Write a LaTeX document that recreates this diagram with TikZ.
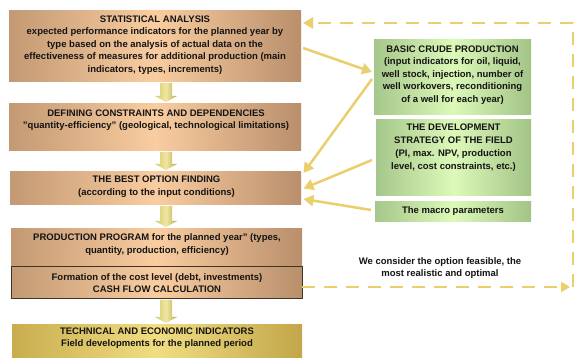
\documentclass[tikz,border=0pt]{standalone}
\usepackage{fontspec}
\setmainfont{Liberation Sans}
\usetikzlibrary{arrows.meta,calc}

\definecolor{brownL}{HTML}{C39973}
\definecolor{brownM}{HTML}{F9CDA0}
\definecolor{brownR}{HTML}{B98F6C}
\definecolor{greenL}{HTML}{A6C78B}
\definecolor{greenM}{HTML}{DCF9B8}
\definecolor{greenR}{HTML}{A3C487}
\definecolor{goldL}{HTML}{C8AD4E}
\definecolor{goldM}{HTML}{F1DD82}
\definecolor{goldR}{HTML}{C2A649}
\definecolor{flowL}{HTML}{D8CA68}
\definecolor{flowM}{HTML}{EFE6A2}
\definecolor{flowR}{HTML}{BBAA4C}
\definecolor{feedC}{HTML}{EACF6C}
\definecolor{frameC}{HTML}{3E3428}
\definecolor{inkC}{HTML}{141414}

% block arrow pointing down between two stacked boxes
\newcommand\flowdown[2]{%
  \path[shade, left color=flowL, right color=flowR, middle color=flowM]
    let \p1=(#1.south), \p2=(#2.north) in
    (160pt,\y1-1pt) -- (172pt,\y1-1pt) -- (172pt,\y2+8pt) -- (177pt,\y2+8pt)
    -- (166pt,\y2+2pt) -- (155pt,\y2+8pt) -- (160pt,\y2+8pt) -- cycle;}

\begin{document}
\begin{tikzpicture}[x=1pt,y=-1pt,
  every node/.style={inner sep=0pt, outer sep=0pt},
  txt/.style={font=\fontsize{9.5}{12.4}\selectfont\bfseries, text=inkC, align=center},
  brownbox/.style={rectangle, left color=brownL, right color=brownR, middle color=brownM},
  greenbox/.style={rectangle, left color=greenL, right color=greenR, middle color=greenM},
  goldbox/.style={rectangle, left color=goldL, right color=goldR, middle color=goldM},
  feed/.style={draw=feedC, line width=2.5pt, -{Triangle[length=10pt,width=11pt]}},
  loopline/.style={draw=feedC, line width=2.6pt, dash pattern=on 13pt off 9pt},
]
\useasboundingbox[fill=white] (0,0) rectangle (574,358);

% left column
\node[brownbox, minimum width=292pt, minimum height=71pt] (stat) at (155,46.5) {};
\node[txt] (statT) at (155,45) {STATISTICAL ANALYSIS\\
  expected performance indicators for the planned year by\\
  type based on the analysis of actual data on the\\
  effectiveness of measures for additional production (main\\
  indicators, types, increments)};

\node[brownbox, minimum width=292pt, minimum height=47pt] (cons) at (155,127.5) {};
\node[txt] (consT) at (156,120) {DEFINING CONSTRAINTS AND DEPENDENCIES\\
  "quantity-efficiency" (geological, technological limitations)};

\node[brownbox, minimum width=291pt, minimum height=33pt] (best) at (155.5,188.5) {};
\node[txt] (bestT) at (156.5,186.5) {THE BEST OPTION FINDING\\(according to the input conditions)};

\node[brownbox, minimum width=291pt, minimum height=38pt] (prog) at (156.5,248) {};
\node[txt] (progT) at (157,244.5) {PRODUCTION PROGRAM for the planned year" (types,\\
  quantity, production, efficiency)};

\node[brownbox, draw=frameC, line width=1pt, minimum width=291pt, minimum height=32pt] (cash) at (156.5,283) {};
\node[txt] (cashT) at (157,283) {Formation of the cost level (debt, investments)\\CASH FLOW CALCULATION};

\node[goldbox, minimum width=290pt, minimum height=34pt] (tech) at (157,342) {};
\node[txt] (techT) at (157,338) {TECHNICAL AND ECONOMIC INDICATORS\\Field developments for the planned period};

% right column
\node[greenbox, minimum width=157pt, minimum height=75pt] (crude) at (452.5,77.5) {};
\node[txt] (crudeT) at (452.5,75) {BASIC CRUDE PRODUCTION\\
  (input indicators for oil, liquid,\\
  well stock, injection, number of\\
  well workovers, reconditioning\\
  of a well for each year)};

\node[greenbox, minimum width=155pt, minimum height=76pt] (strat) at (453.5,158) {};
\node[txt, font=\fontsize{9.5}{13}\selectfont\bfseries] (stratT) at (453.5,147.5) {THE DEVELOPMENT\\
  STRATEGY OF THE FIELD\\
  (PI, max. NPV, production\\
  level, cost constraints, etc.)};

\node[greenbox, minimum width=156pt, minimum height=20pt] (macro) at (453,212) {};
\node[txt] (macroT) at (453,211.5) {The macro parameters};

\node[txt] (note) at (440,268) {We consider the option feasible, the\\most realistic and optimal};

% vertical flow
\flowdown{stat}{cons}
\flowdown{cons}{best}
\flowdown{best}{prog}
\flowdown{cash}{tech}

% inputs
\draw[feed] ([xshift=2pt,yshift=-1.5pt]stat.east) -- ([xshift=-2pt,yshift=5.5pt]crude.west);
\draw[feed] ([xshift=-2pt,yshift=-1.5pt]crude.west) -- ([xshift=2.5pt,yshift=15.5pt]best.east);
\draw[feed] ([xshift=-4pt,yshift=-2pt]strat.west) -- ([xshift=2.5pt]best.east);
\draw[feed] ([xshift=-4pt,yshift=2pt]macro.west) -- ([xshift=2.5pt,yshift=-10.5pt]best.east);

% feedback loop
\coordinate (br) at (573,287);
\coordinate (tr) at (573,23);
\draw[loopline, -{Triangle[length=9pt,width=10pt]}] (cash.east |- br) -- ([xshift=-3pt]br);
\draw[loopline, -{Triangle[length=10pt,width=11pt]}] (br) -- (tr) -- ([xshift=2pt]stat.east |- tr);
\end{tikzpicture}
\end{document}
